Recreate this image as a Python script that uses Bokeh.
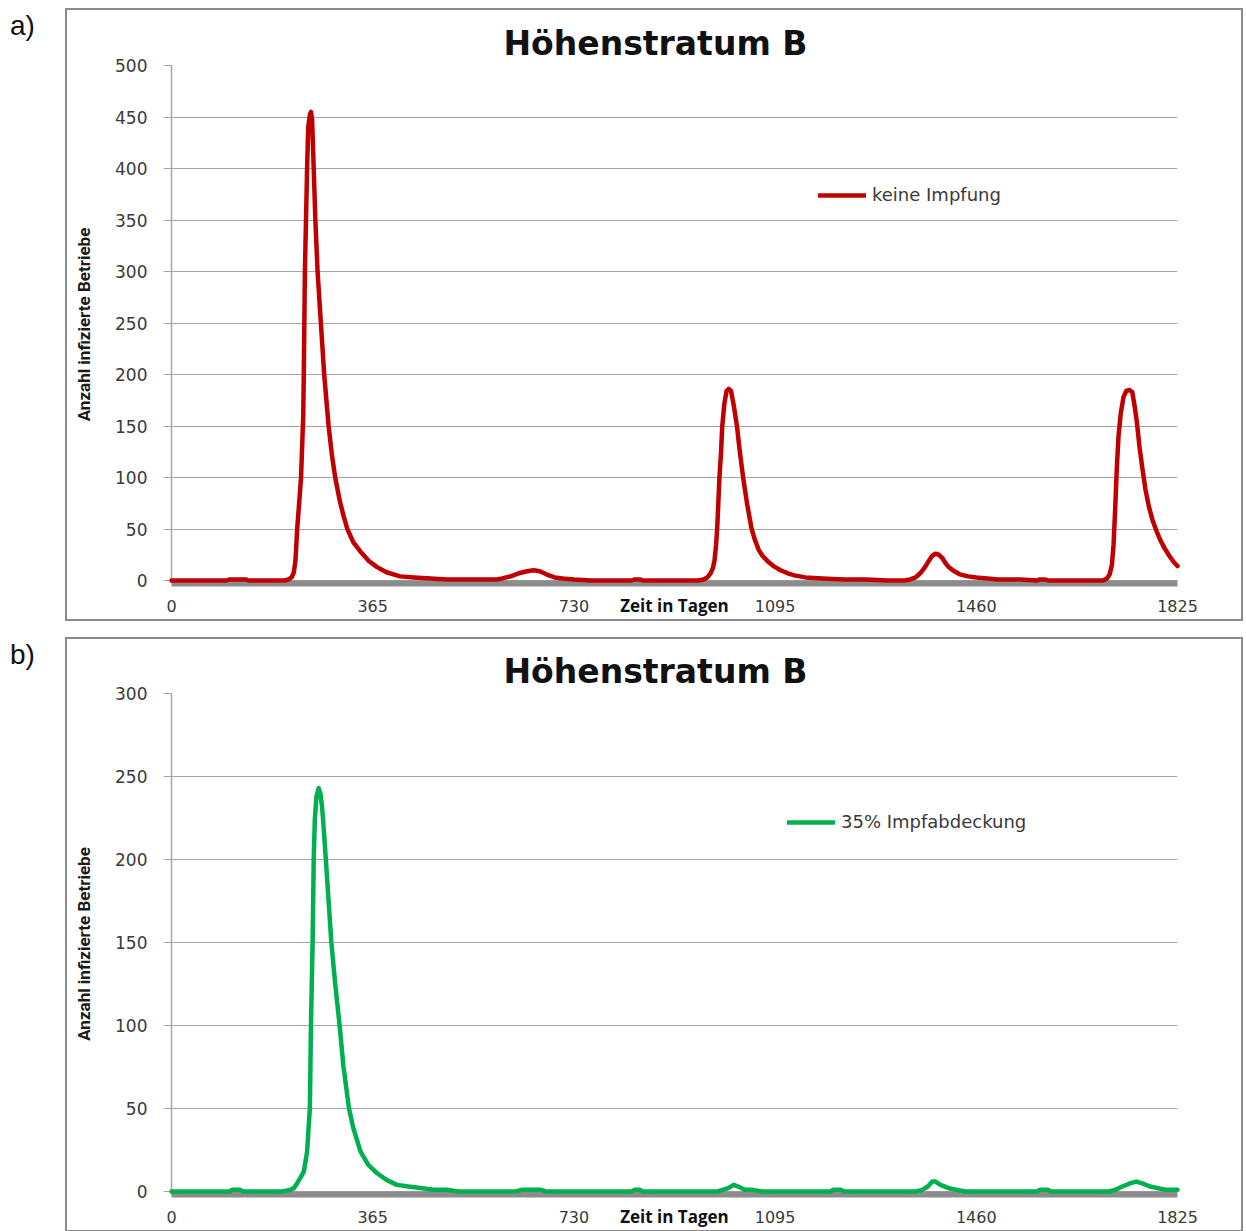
from bokeh.plotting import figure
from bokeh.models import (Range1d, FixedTicker, ColumnDataSource, Legend, LegendItem, Div)
from bokeh.layouts import column, row
from bokeh.embed import file_html
from bokeh.resources import INLINE

TITLE = "Höhenstratum B"
X_LABEL = "Zeit in Tagen"
Y_LABEL = "Anzahl infizierte Betriebe"
X_TICKS = [0, 365, 730, 1095, 1460, 1825]
Y_TICKS_A = [0, 50, 100, 150, 200, 250, 300, 350, 400, 450, 500]
Y_TICKS_B = [0, 50, 100, 150, 200, 250, 300]

# Panel a) - keine Impfung
days_a = [0, 100, 105, 135, 140, 205, 212, 218, 222, 225, 228, 232, 235, 237, 239, 240,
          241, 242, 244, 246, 248, 251, 253, 255, 258, 261, 265, 271, 277, 285, 291, 297,
          305, 312, 319, 330, 343, 358, 373, 390, 415, 440, 470, 500, 530, 560, 590, 600,
          615, 630, 645, 657, 668, 680, 695, 710, 730, 760, 835, 840, 850, 855, 955, 965,
          972, 978, 982, 985, 988, 990, 992, 994, 997, 999, 1003, 1007, 1011, 1015, 1020,
          1026, 1031, 1037, 1044, 1052, 1058, 1065, 1072, 1081, 1092, 1105, 1118, 1130,
          1150, 1180, 1220, 1260, 1300, 1330, 1340, 1350, 1360, 1368, 1375, 1380, 1386,
          1392, 1398, 1404, 1410, 1420, 1430, 1445, 1460, 1480, 1500, 1540, 1570, 1575,
          1585, 1590, 1690, 1697, 1702, 1706, 1709, 1712, 1715, 1718, 1722, 1727, 1732,
          1738, 1743, 1747, 1751, 1756, 1761, 1767, 1773, 1780, 1787, 1794, 1802, 1810,
          1818, 1825]
infected_a = [0, 0, 1, 1, 0, 0, 1, 3, 8, 20, 50, 78, 100, 130, 160, 200,
              250, 300, 350, 400, 440, 452, 455, 448, 400, 350, 300, 250, 200, 150, 122, 100,
              78, 63, 50, 37, 28, 19, 13, 8, 4, 3, 2, 1, 1, 1, 1, 2,
              4, 7, 9, 10, 9, 6, 3, 2, 1, 0, 0, 1, 1, 0, 0, 1,
              3, 7, 12, 19, 35, 51, 75, 100, 125, 149, 172, 184, 186, 184, 170,
              149, 125, 100, 75, 51, 40, 30, 24, 19, 14, 10, 7, 5,
              3, 2, 1, 1, 0, 0, 1, 3, 8, 14, 20, 24, 26,
              25, 22, 17, 13, 9, 6, 4, 3, 2, 1, 1, 0, 1,
              1, 0, 0, 2, 6, 15, 35, 70, 110, 140, 162, 178, 184,
              185, 183, 170, 155, 130, 110, 88, 72, 58, 48, 39, 31, 24,
              18, 14]

# Panel b) - 35% Impfabdeckung
days_b = [0, 105, 110, 125, 130, 200, 215, 222, 228, 235, 240, 244, 246, 249, 251, 253,
          256, 258, 260, 263, 267, 270, 273, 275, 280, 285, 290, 297, 305, 312, 322, 330,
          343, 357, 373, 390, 409, 430, 455, 475, 485, 500, 520, 625, 635, 670, 680, 835,
          840, 850, 855, 990, 1000, 1010, 1020, 1028, 1040, 1055, 1070, 1195, 1200, 1215,
          1220, 1350, 1362, 1372, 1380, 1386, 1395, 1410, 1425, 1440, 1570, 1575, 1590,
          1595, 1700, 1712, 1725, 1740, 1750, 1760, 1775, 1790, 1805, 1825]
infected_b = [0, 0, 1, 1, 0, 0, 1, 2, 5, 9, 12, 20, 24, 40, 50, 100,
              150, 200, 224, 238, 243, 240, 232, 224, 200, 175, 150, 125, 100, 75, 50, 38,
              24, 16, 11, 7, 4, 3, 2, 1, 1, 1, 0, 0, 1, 1, 0, 0,
              1, 1, 0, 0, 1, 2, 4, 3, 1, 1, 0, 0, 1, 1,
              0, 0, 1, 3, 6, 6, 4, 2, 1, 0, 0, 1, 1,
              0, 0, 1, 3, 5, 6, 5, 3, 2, 1, 1]

FONT_TICK = "DejaVu Sans"
TEXT_COL = "#3a3a3a"
GRID_COL = "#a6a6a6"
BAND_COL = "#8c8c8c"


def make_panel(days, vals, color, legend_label, y_max, y_ticks, height,
               top_b, bottom_b, legend_loc, top_margin):
    frame_h = height - top_b - bottom_b
    y_start = -3.0 * y_max / (frame_h - 3)
    p = figure(width=1174, height=height, output_backend="svg", toolbar_location=None,
               x_range=Range1d(0, 1825), y_range=Range1d(y_start, y_max),
               min_border_left=104, min_border_right=64,
               min_border_top=top_b, min_border_bottom=bottom_b,
               title=TITLE)
    p.margin = (top_margin, 0, 0, 2)
    p.styles = {"box-shadow": "0 0 0 2px #8c8c8c"}
    p.outline_line_color = None
    p.background_fill_color = "white"
    p.border_fill_color = "white"

    t = p.title
    t.align = "left"
    t.offset = 332
    t.text_font = "DejaVu Sans"
    t.text_font_style = "bold"
    t.text_font_size = "33px"
    t.text_color = "#111111"
    t.standoff = 6

    p.xgrid.visible = False
    p.ygrid.ticker = FixedTicker(ticks=y_ticks)
    p.ygrid.grid_line_color = GRID_COL
    p.ygrid.grid_line_width = 1

    xa = p.xaxis[0]
    xa.ticker = FixedTicker(ticks=X_TICKS)
    xa.axis_line_color = BAND_COL
    xa.axis_line_width = 6
    xa.major_tick_out = 0
    xa.major_tick_in = 0
    xa.minor_tick_out = 0
    xa.minor_tick_in = 0
    xa.major_label_standoff = 16
    xa.major_label_text_font = FONT_TICK
    xa.major_label_text_font_size = "16px"
    xa.major_label_text_color = TEXT_COL
    xa.axis_label = X_LABEL
    xa.axis_label_standoff = -21
    xa.axis_label_text_font = "Open Sans"
    xa.axis_label_text_font_style = "bold"
    xa.axis_label_text_font_size = "17px"
    xa.axis_label_text_color = "#111111"

    ya = p.yaxis[0]
    ya.ticker = FixedTicker(ticks=y_ticks)
    ya.axis_line_color = GRID_COL
    ya.axis_line_width = 1.5
    ya.major_tick_out = 8
    ya.major_tick_in = 0
    ya.major_tick_line_color = GRID_COL
    ya.minor_tick_out = 0
    ya.minor_tick_in = 0
    ya.major_label_standoff = 16
    ya.major_label_text_font = FONT_TICK
    ya.major_label_text_font_size = "17px"
    ya.major_label_text_color = TEXT_COL
    ya.axis_label = Y_LABEL
    ya.axis_label_text_font = "Roboto"
    ya.axis_label_text_font_style = "bold"
    ya.axis_label_text_font_size = "17px"
    ya.axis_label_text_color = "#1a1a1a"
    ya.axis_label_standoff = 18

    src = ColumnDataSource(data=dict(day=days, n=vals))
    r = p.line("day", "n", source=src, line_color=color, line_width=4.5,
               line_join="round", line_cap="round", level="overlay")

    legend = Legend(items=[LegendItem(label=legend_label, renderers=[r])],
                    location=legend_loc, border_line_color=None,
                    background_fill_alpha=0, padding=0, margin=0, spacing=0,
                    glyph_width=48, glyph_height=20, label_standoff=6,
                    label_text_font=FONT_TICK, label_text_font_size="18px",
                    label_text_color=TEXT_COL)
    p.add_layout(legend, "center")
    return p


def tag_div(text, height, pad_top):
    html = ('<div style="padding:%dpx 0 0 10px;font-family:\'Liberation Sans\',Arial,sans-serif;'
            'font-size:28px;line-height:28px;color:#111111;">%s</div>' % (pad_top, text))
    return Div(text=html, width=65, height=height, margin=0)


pa = make_panel(days_a, infected_a, "#c00000", "keine Impfung", 500, Y_TICKS_A,
                609, 55, 36, (647, 378), 10)
pb = make_panel(days_b, infected_b, "#00b050", "35% Impfabdeckung", 300, Y_TICKS_B,
                591, 54, 36, (616, 362), 20)

layout = column(row(tag_div("a)", 619, 12), pa),
                row(tag_div("b)", 611, 22), pb))
open("out.html", "w").write(file_html(layout, INLINE))
